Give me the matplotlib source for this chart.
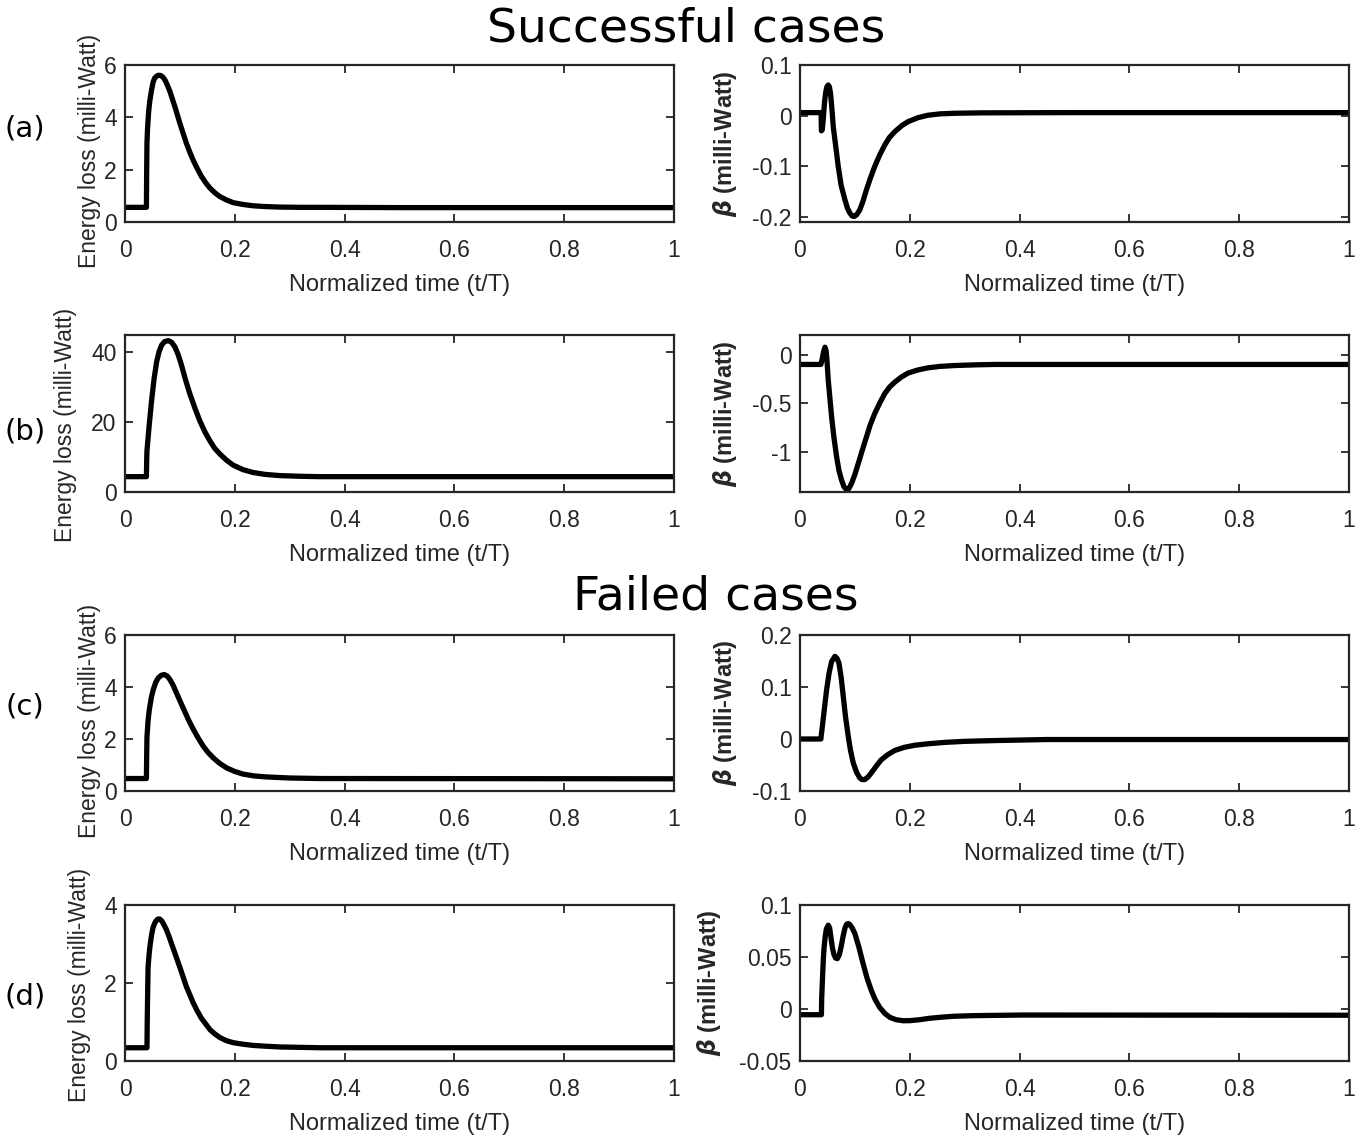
import matplotlib
matplotlib.use("Agg")
import matplotlib.pyplot as plt
from matplotlib.ticker import FormatStrFormatter

plt.rcParams['font.family'] = ['Liberation Sans', 'DejaVu Sans']
plt.rcParams['axes.unicode_minus'] = False
plt.rcParams['mathtext.fontset'] = 'dejavusans'

# ---- data ----
# (a) successful, energy loss
a_loss_t = [0, 0.039, 0.0395, 0.040, 0.041, 0.043, 0.045, 0.048, 0.051, 0.054, 0.058, 0.061,
            0.065, 0.069, 0.073, 0.077, 0.082, 0.086, 0.091, 0.095, 0.100, 0.106, 0.112, 0.118,
            0.124, 0.131, 0.139, 0.147, 0.155, 0.164, 0.173, 0.185, 0.197, 0.215, 0.233, 0.255,
            0.282, 0.32, 0.355, 0.5, 1.0]
a_loss = [0.56, 0.56, 2.0, 3.0, 3.55, 4.2, 4.6, 5.0, 5.33, 5.5, 5.58, 5.61,
          5.6, 5.54, 5.42, 5.24, 4.98, 4.72, 4.4, 4.12, 3.77, 3.38, 3.0, 2.67,
          2.37, 2.07, 1.75, 1.5, 1.29, 1.11, 0.97, 0.84, 0.74, 0.67, 0.62, 0.59,
          0.57, 0.56, 0.56, 0.55, 0.55]
# (a) successful, beta
a_beta_t = [0, 0.0385, 0.039, 0.0405, 0.042, 0.0435, 0.045, 0.047, 0.049, 0.0515, 0.0535, 0.0555,
            0.058, 0.0606, 0.065, 0.0697, 0.075, 0.0818, 0.0865, 0.0909, 0.095, 0.0988, 0.103,
            0.109, 0.115, 0.121, 0.128, 0.136, 0.145, 0.1545, 0.163, 0.1727, 0.185, 0.197, 0.215,
            0.233, 0.255, 0.282, 0.33, 0.5, 1.0]
a_beta = [0.006, 0.006, -0.030, -0.028, -0.012, 0.01, 0.03, 0.047, 0.057, 0.0605, 0.057, 0.045,
          0.015, -0.022, -0.06, -0.1006, -0.138, -0.166, -0.183, -0.1925, -0.198, -0.199, -0.196,
          -0.186, -0.168, -0.1466, -0.124, -0.1006, -0.078, -0.0578, -0.043, -0.0316, -0.02, -0.0118, -0.004,
          0.0008, 0.0035, 0.0047, 0.0055, 0.006, 0.006]

# (b) successful, energy loss
b_loss_t = [0, 0.039, 0.0395, 0.040, 0.044, 0.0485, 0.053, 0.0576, 0.062, 0.0667, 0.072, 0.0788,
            0.085, 0.0909, 0.097, 0.103, 0.11, 0.118, 0.127, 0.136, 0.145, 0.1545, 0.163, 0.1727,
            0.185, 0.197, 0.215, 0.233, 0.255, 0.282, 0.32, 0.355, 1.0]
b_loss = [4.4, 4.4, 9.0, 11.8, 19.0, 26.3, 32.5, 37.3, 40.2, 42.1, 43.1, 43.4,
          42.9, 41.6, 39.3, 36.3, 32.3, 28.2, 24.2, 20.5, 17.4, 14.7, 12.6, 10.9,
          9.1, 7.7, 6.4, 5.6, 5.05, 4.7, 4.5, 4.4, 4.4]
# (b) successful, beta
b_beta_t = [0, 0.038, 0.0395, 0.041, 0.043, 0.0455, 0.0475, 0.049, 0.0515, 0.0545, 0.0576, 0.062,
            0.0667, 0.071, 0.0758, 0.080, 0.0848, 0.089, 0.094, 0.1, 0.106, 0.113, 0.121, 0.128,
            0.136, 0.145, 0.1545, 0.163, 0.1727, 0.185, 0.197, 0.215, 0.233, 0.255, 0.282, 0.32,
            0.355, 1.0]
b_beta = [-0.102, -0.102, -0.07, -0.03, 0.03, 0.075, 0.04, -0.05, -0.266, -0.45, -0.64, -0.86,
          -1.05, -1.19, -1.29, -1.355, -1.386, -1.375, -1.32, -1.23, -1.12, -0.99, -0.846, -0.72,
          -0.607, -0.50, -0.40, -0.335, -0.283, -0.23, -0.19, -0.158, -0.137, -0.122, -0.113, -0.106,
          -0.102, -0.102]

# (c) failed, energy loss
c_loss_t = [0, 0.039, 0.0395, 0.040, 0.042, 0.0442, 0.048, 0.0515, 0.056, 0.0606, 0.066, 0.0715,
            0.077, 0.0818, 0.088, 0.094, 0.1015, 0.109, 0.116, 0.124, 0.133, 0.142, 0.151, 0.1606,
            0.172, 0.185, 0.2, 0.215, 0.235, 0.258, 0.3, 0.355, 1.0]
c_loss = [0.48, 0.48, 1.4, 2.07, 2.7, 3.11, 3.6, 3.9, 4.18, 4.35, 4.45, 4.48,
          4.42, 4.29, 4.05, 3.76, 3.4, 3.05, 2.72, 2.39, 2.05, 1.74, 1.49, 1.28,
          1.07, 0.89, 0.75, 0.65, 0.58, 0.54, 0.5, 0.48, 0.47]
# (c) failed, beta
c_beta_t = [0, 0.038, 0.043, 0.0485, 0.053, 0.0576, 0.0636, 0.0675, 0.0709, 0.075, 0.0788, 0.083,
            0.0879, 0.092, 0.097, 0.103, 0.109, 0.113, 0.118, 0.124, 0.130, 0.139, 0.148, 0.16,
            0.1727, 0.19, 0.209, 0.235, 0.264, 0.3, 0.355, 0.45, 1.0]
c_beta = [0, 0, 0.045, 0.0948, 0.127, 0.149, 0.159, 0.155, 0.146, 0.118, 0.082, 0.042,
          0.005, -0.022, -0.046, -0.064, -0.075, -0.078, -0.078, -0.073, -0.065, -0.052, -0.040, -0.03,
          -0.022, -0.016, -0.012, -0.009, -0.0065, -0.0045, -0.003, -0.001, -0.001]

# (d) failed, energy loss
d_loss_t = [0, 0.040, 0.0405, 0.041, 0.042, 0.044, 0.046, 0.0485, 0.051, 0.054, 0.057, 0.060,
            0.063, 0.0665, 0.070, 0.075, 0.080, 0.085, 0.090, 0.095, 0.1, 0.106, 0.112, 0.118,
            0.124, 0.131, 0.139, 0.147, 0.155, 0.164, 0.173, 0.185, 0.197, 0.215, 0.233, 0.255,
            0.282, 0.355, 1.0]
d_loss = [0.34, 0.34, 1.0, 1.5, 2.4, 2.75, 3.0, 3.24, 3.42, 3.53, 3.6, 3.64,
          3.64, 3.6, 3.52, 3.38, 3.2, 3.0, 2.8, 2.6, 2.4, 2.15, 1.9, 1.7,
          1.5, 1.3, 1.1, 0.95, 0.8, 0.69, 0.6, 0.52, 0.47, 0.43, 0.4, 0.38,
          0.36, 0.34, 0.34]
# (d) failed, beta
d_beta_t = [0, 0.039, 0.0395, 0.041, 0.0425, 0.044, 0.046, 0.048, 0.0515, 0.054, 0.056, 0.059,
            0.062, 0.065, 0.068, 0.0715, 0.075, 0.0785, 0.082, 0.085, 0.0879, 0.091, 0.095, 0.1,
            0.107, 0.115, 0.122, 0.130, 0.137, 0.145, 0.154, 0.1636, 0.175, 0.188, 0.2, 0.218,
            0.235, 0.2545, 0.28, 0.315, 0.406, 1.0]
d_beta = [-0.0055, -0.0055, 0.01, 0.03, 0.048, 0.06, 0.07, 0.077, 0.0806, 0.078, 0.07, 0.059,
          0.052, 0.049, 0.0484, 0.052, 0.06, 0.07, 0.078, 0.0815, 0.0822, 0.081, 0.078, 0.0725,
          0.06, 0.0435, 0.03, 0.0177, 0.009, 0.0016, -0.004, -0.008, -0.0103, -0.0113, -0.0112, -0.0103,
          -0.009, -0.008, -0.007, -0.0064, -0.0058, -0.006]

xticks = [0, 0.2, 0.4, 0.6, 0.8, 1]
loss_yticks = [[0, 2, 4, 6], [0, 20, 40], [0, 2, 4, 6], [0, 2, 4]]
loss_ylims = [(0, 6), (0, 45), (0, 6), (0, 4)]
beta_yticks = [[-0.2, -0.1, 0, 0.1], [-1, -0.5, 0], [-0.1, 0, 0.1, 0.2], [-0.05, 0, 0.05, 0.1]]
beta_ylims = [(-0.21, 0.1), (-1.41, 0.2), (-0.1, 0.2), (-0.05, 0.1)]
panel_labels = ['(a)', '(b)', '(c)', '(d)']

loss_t = [a_loss_t, b_loss_t, c_loss_t, d_loss_t]
loss = [a_loss, b_loss, c_loss, d_loss]
beta_t = [a_beta_t, b_beta_t, c_beta_t, d_beta_t]
beta = [a_beta, b_beta, c_beta, d_beta]

W, H = 1371, 1142
fig = plt.figure(figsize=(W / 100, H / 100), dpi=100)

rows_px = [(65, 222), (335, 492), (635, 791), (905, 1061)]  # top, bottom
cols_px = [(125, 674), (800, 1349)]
loss_label_x = [-0.044, -0.087, -0.044, -0.062]
loss_label_y = [0.45, 0.43, 0.45, 0.49]
beta_label_x = [-0.111, -0.111, -0.111, -0.14]
panel_y = [128, 432, 707, 997]
axcol = '#262626'


def style(ax, yt, yl):
    ax.set_xlim(0, 1)
    ax.set_ylim(*yl)
    ax.set_xticks(xticks)
    ax.set_yticks(yt)
    ax.xaxis.set_major_formatter(FormatStrFormatter('%g'))
    ax.yaxis.set_major_formatter(FormatStrFormatter('%g'))
    ax.tick_params(direction='in', length=6, width=1.3, color=axcol, labelsize=16.5,
                   labelcolor=axcol, top=True, right=True)
    ax.tick_params(axis='x', pad=12)
    ax.tick_params(axis='y', pad=6)
    for s in ax.spines.values():
        s.set_color(axcol)
        s.set_linewidth(1.6)
    ax.set_xlabel('Normalized time (t/T)', fontsize=17, color=axcol, labelpad=9)


for i in range(4):
    top, bot = rows_px[i]
    for j in range(2):
        l, r = cols_px[j]
        ax = fig.add_axes([l / W, 1 - bot / H, (r - l) / W, (bot - top) / H])
        if j == 0:
            ax.plot(loss_t[i], loss[i], color='black', lw=3.8, solid_joinstyle='round')
            style(ax, loss_yticks[i], loss_ylims[i])
            ax.set_ylabel('Energy loss (milli-Watt)', fontsize=16.5, color=axcol)
            ax.yaxis.set_label_coords(loss_label_x[i], loss_label_y[i])
        else:
            ax.plot(beta_t[i], beta[i], color='black', lw=3.8, solid_joinstyle='round')
            style(ax, beta_yticks[i], beta_ylims[i])
            ax.set_ylabel(r'$\boldsymbol{\beta}$ (milli-Watt)', fontsize=17, color=axcol,
                          fontweight='bold')
            ax.yaxis.set_label_coords(beta_label_x[i], 0.5)
    fig.text(25 / W, 1 - panel_y[i] / H, panel_labels[i], fontsize=21, family='DejaVu Sans',
             ha='center', va='center')

fig.text(686 / W, 1 - 29 / H, 'Successful cases', fontsize=34, family='DejaVu Sans',
         ha='center', va='center')
fig.text(716 / W, 1 - 597 / H, 'Failed cases', fontsize=34, family='DejaVu Sans',
         ha='center', va='center')

fig.savefig('out.png', dpi=100)
